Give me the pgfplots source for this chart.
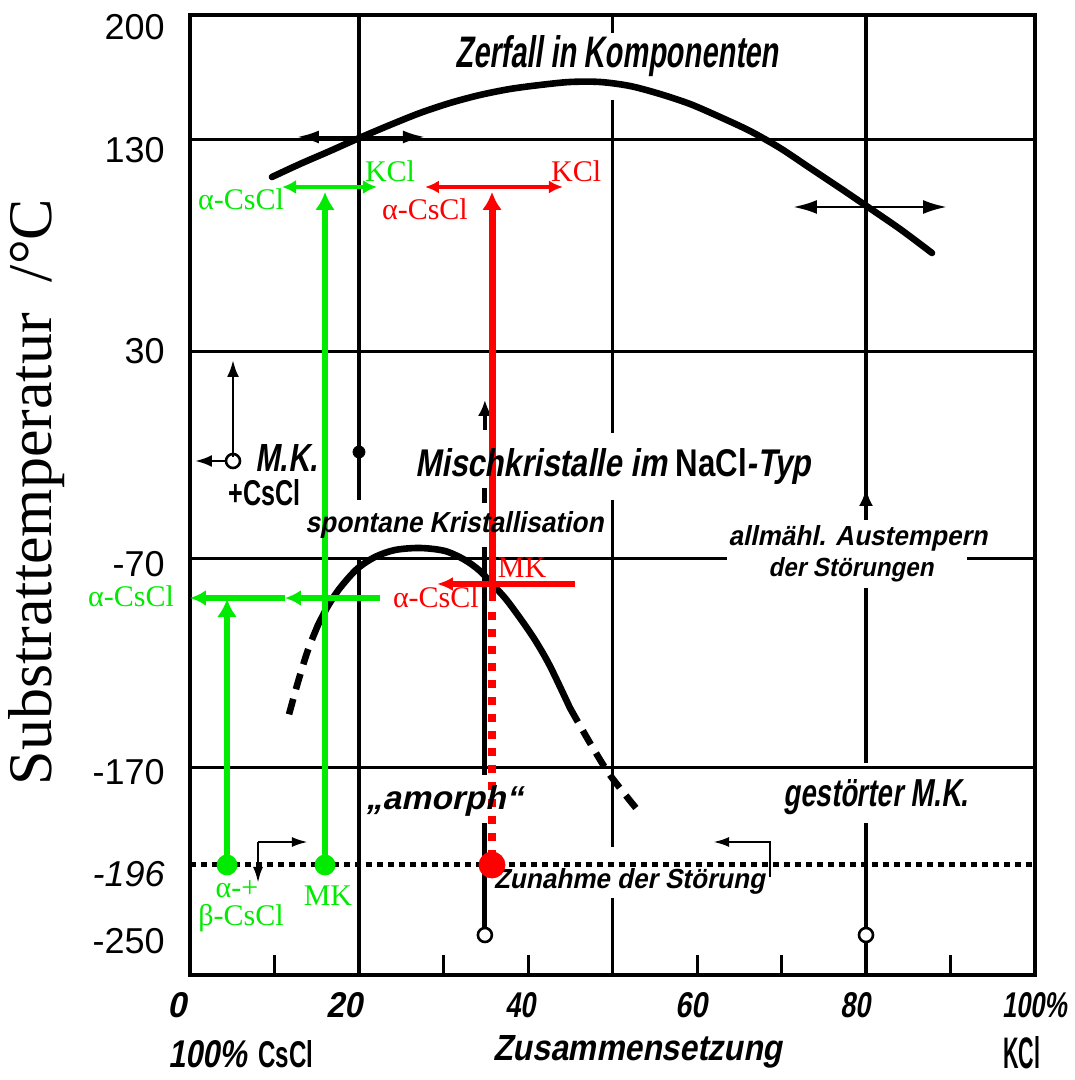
\documentclass[border=0pt]{standalone}
\usepackage{fontspec}
\setmainfont{Liberation Serif}
\newfontfamily\arial{Liberation Sans}
\newfontfamily\din[FakeSlant=0.22]{Liberation Sans}
\newfontfamily\dinup{Liberation Sans}
\usepackage{graphicx}
\usepackage{pgfplots}
\pgfplotsset{compat=1.18}
\usetikzlibrary{arrows.meta}
\definecolor{gr}{RGB}{0,235,0}
\definecolor{rd}{RGB}{255,0,0}
\newcommand\rb[3]{\resizebox{#1}{#2}{\din\bfseries #3}}
\newcommand\rbu[3]{\resizebox{#1}{#2}{\dinup\bfseries #3}}
\begin{document}
\begin{tikzpicture}
\begin{axis}[
  scale only axis, width=422.5pt, height=480pt,
  xmin=0, xmax=100, ymin=105, ymax=1065,
  clip=false,
  axis line style={line width=2.2pt},
  xtick={0,10,...,100}, xticklabels=\empty, xtick pos=bottom, xtick align=inside,
  major tick length=10pt, xtick style={line width=1.5pt, black},
  ytick={1053,930,729,516,308,206,139},
  yticklabels={200,130,30,-70,-170,\textit{-196},-250},
  ytick style={draw=none},
  yticklabel style={font=\arial\fontsize{18}{18}\selectfont, anchor=east, inner sep=0pt, xshift=-12.5pt},
]
% bounding box of the whole picture
\path (axis cs:-22.485,0) rectangle (axis cs:104.73,1080);

% horizontal grid lines
\draw[line width=1.5pt] (axis cs:0,940) -- (axis cs:100,940);
\draw[line width=1.5pt] (axis cs:0,728) -- (axis cs:100,728);
\draw[line width=1.5pt] (axis cs:0,521) -- (axis cs:63.55,521);
\draw[line width=1.5pt] (axis cs:91.95,521) -- (axis cs:100,521);
\draw[line width=1.5pt] (axis cs:0,312) -- (axis cs:100,312);
\draw[line width=2.5pt, dash pattern=on 3pt off 2.5pt] (axis cs:0,215) -- (axis cs:100,215);
% vertical grid lines
\draw[line width=1.8pt] (axis cs:20,1065) -- (axis cs:20,580);
\draw[line width=1.8pt] (axis cs:20,522) -- (axis cs:20,105);
\draw[line width=1.8pt] (axis cs:50,1065) -- (axis cs:50,1047);
\draw[line width=1.8pt] (axis cs:50,980) -- (axis cs:50,647);
\draw[line width=1.8pt] (axis cs:50,580) -- (axis cs:50,233);
\draw[line width=1.8pt] (axis cs:50,182) -- (axis cs:50,105);
\draw[line width=1.8pt] (axis cs:80,1065) -- (axis cs:80,563);
\draw[line width=1.8pt] (axis cs:80,492) -- (axis cs:80,317);
\draw[line width=1.8pt] (axis cs:80,257) -- (axis cs:80,151);
\draw[line width=1.8pt] (axis cs:80,139) -- (axis cs:80,105);
% vertical line at 35 %
\draw[line width=2.5pt] (axis cs:34.9,592) -- (axis cs:34.9,577);
\draw[line width=2.5pt] (axis cs:34.9,533) -- (axis cs:34.9,305);
\draw[line width=2.5pt] (axis cs:34.9,257) -- (axis cs:34.9,152);

% black arrows
\addplot[line width=1.8pt, -{Latex[length=8pt,width=7pt]}] coordinates {(34.9,650) (34.9,680)};
\addplot[line width=1.8pt, -{Latex[length=9pt,width=7pt]}] coordinates {(80,560) (80,592)};
\addplot[line width=1.4pt, {Latex[length=11pt,width=6.5pt]}-{Latex[length=11pt,width=6.5pt]}] coordinates {(12.66,943) (27.8,943)};
\addplot[line width=1.4pt, {Latex[length=12pt,width=7pt]}-{Latex[length=12pt,width=7pt]}] coordinates {(71.36,873) (89.59,873)};
\addplot[line width=1.4pt, -{Latex[length=8.5pt,width=6pt]}] coordinates {(5.09,623) (5.09,720)};
\addplot[line width=1.4pt, -{Latex[length=8.5pt,width=6pt]}] coordinates {(4.3,619) (0.59,619)};
\addplot[line width=1.3pt, -{Latex[length=8pt,width=5pt]}] coordinates {(8.05,238) (8.05,197)};
\addplot[line width=1.3pt, -{Latex[length=8pt,width=5pt]}] coordinates {(8.05,238) (13.96,238)};
\addplot[line width=1.3pt, -{Latex[length=8pt,width=5pt]}] coordinates {(68.64,203) (68.64,238) (61.9,238)};

% upper curve: Zerfall in Komponenten
\addplot[smooth, line width=3.3pt, line cap=round] coordinates {
(9.70,903) (13.02,916) (16.57,929) (19.76,941) (23.67,955) (27.22,967)
(30.77,977) (34.32,985) (37.87,991) (41.42,995) (44.97,998) (48.52,998)
(52.07,994) (55.62,986) (59.17,976) (62.72,963) (66.27,949) (69.82,932)
(73.37,912) (76.92,892) (79.88,875) (84.02,851) (87.81,827)};
% lower curve: spontane Kristallisation
\addplot[smooth, line width=3.3pt, line cap=round] coordinates {
(15.15,455) (16.33,474) (17.75,492) (19.76,511) (21.89,523) (24.26,530)
(27.22,532) (30.18,529) (32.54,520) (34.32,509) (35.74,496) (37.28,482)
(39.05,462) (40.83,440) (42.60,414) (44.97,372)};
\addplot[smooth, line width=3.3pt, dash pattern=on 8pt off 5pt] coordinates {
(44.97,372) (47.34,337) (49.70,305) (53.25,267)};
\addplot[smooth, line width=3.3pt, dash pattern=on 8pt off 5pt] coordinates {
(15.15,455) (13.96,430) (12.78,398) (11.60,362)};

% black markers
\addplot[only marks, mark=*, mark size=3pt, black] coordinates {(20,628)};
\addplot[only marks, mark=o, mark size=3.5pt, black, mark options={line width=1.3pt, fill=white}] coordinates {(5.09,619) (34.9,145) (80,145)};

% green annotations
\addplot[gr, line width=3.3pt, -{Latex[length=9pt,width=10pt]}] coordinates {(4.38,215) (4.38,481)};
\addplot[gr, line width=3.3pt, -{Latex[length=9pt,width=10pt]}] coordinates {(15.98,215) (15.98,888)};
\addplot[gr, line width=2.3pt, {Latex[length=7pt,width=7pt]}-{Latex[length=7pt,width=7pt]}] coordinates {(10.89,893) (22.13,893)};
\addplot[gr, line width=2.8pt, -{Latex[length=8pt,width=8pt]}] coordinates {(22.49,482) (11.24,482)};
\addplot[gr, line width=2.8pt, -{Latex[length=8pt,width=8pt]}] coordinates {(11.24,482) (0,482)};
\addplot[only marks, mark=*, mark size=5pt, gr] coordinates {(4.38,215) (15.98,215)};

% red annotations
\addplot[rd, line width=3.5pt, -{Latex[length=9pt,width=10pt]}] coordinates {(35.74,479) (35.74,888)};
\addplot[rd, line width=4pt, dash pattern=on 4pt off 4.5pt] coordinates {(35.74,468) (35.74,222)};
\addplot[rd, line width=2.3pt, {Latex[length=7pt,width=6.5pt]}-{Latex[length=7pt,width=6.5pt]}] coordinates {(27.81,893) (44.14,893)};
\addplot[rd, line width=2.8pt, -{Latex[length=8pt,width=7pt]}] coordinates {(45.56,496) (29.23,496)};
\addplot[only marks, mark=*, mark size=6.5pt, rd] coordinates {(35.74,215)};

% black labels
\node[anchor=base west, inner sep=0pt] at (axis cs:31.36,1012) {\rb{161.5pt}{16pt}{Zerfall in Komponenten}};
\node[anchor=base west, inner sep=0pt] at (axis cs:26.63,603) {\rb{197.5pt}{14pt}{Mischkristalle im {\dinup NaCl}-Typ}};
\node[anchor=base west, inner sep=0pt] at (axis cs:13.6,547) {\rb{149pt}{10.5pt}{spontane Kristallisation}};
\node[anchor=base west, inner sep=0pt] at (axis cs:7.69,608) {\rb{31pt}{13.5pt}{M.K.}};
\node[anchor=base west, inner sep=0pt] at (axis cs:4.5,574) {\rbu{36pt}{13pt}{+CsCl}};
\node[anchor=base west, inner sep=0pt] at (axis cs:63.67,534) {\rb{129.5pt}{10pt}{allmähl. Austempern}};
\node[anchor=base west, inner sep=0pt] at (axis cs:68.4,503) {\rb{82.5pt}{9.5pt}{der Störungen}};
\node[anchor=base west, inner sep=0pt] at (axis cs:20.7,270) {\rb{78.5pt}{12pt}{„amorph“}};
\node[anchor=base west, inner sep=0pt] at (axis cs:70.2,273) {\rb{92.5pt}{13.5pt}{gestörter M.K.}};
\node[anchor=base west, inner sep=0pt] at (axis cs:35.9,191) {\rb{135.5pt}{10pt}{Zunahme der Störung}};

% x tick labels and axis title
\node[anchor=base, inner sep=0pt] at (axis cs:-1.54,63) {\rb{9.5pt}{12.5pt}{0}};
\node[anchor=base, inner sep=0pt] at (axis cs:18.34,63) {\rb{18pt}{12.5pt}{20}};
\node[anchor=base, inner sep=0pt] at (axis cs:39.17,63) {\rb{15pt}{12.5pt}{40}};
\node[anchor=base, inner sep=0pt] at (axis cs:59.29,63) {\rb{16pt}{12.5pt}{60}};
\node[anchor=base, inner sep=0pt] at (axis cs:78.7,63) {\rb{15pt}{12.5pt}{80}};
\node[anchor=base west, inner sep=0pt] at (axis cs:96.1,63) {\rb{32.5pt}{12.5pt}{100\%}};
\node[anchor=base west, inner sep=0pt] at (axis cs:-2.6,13) {\rb{39.5pt}{13.5pt}{100\%}};
\node[anchor=base west, inner sep=0pt] at (axis cs:8.05,13) {\rbu{27.5pt}{13.5pt}{CsCl}};
\node[anchor=base west, inner sep=0pt] at (axis cs:35.86,20) {\rb{144.5pt}{12.5pt}{Zusammensetzung}};
\node[anchor=base west, inner sep=0pt] at (axis cs:96.2,12) {\rbu{18.5pt}{16pt}{KCl}};

% y axis title
\node[rotate=90, inner sep=0pt, font=\fontsize{31}{31}\selectfont] at (axis cs:-18.1,588) {Substrattemperatur~ /°C};

% green and red labels
\begin{scope}[every node/.style={inner sep=0pt, anchor=base, font=\fontsize{15}{15}\selectfont}]
\node[gr] at (axis cs:23.67,898) {KCl};
\node[gr] at (axis cs:6.04,870) {α-CsCl};
\node[gr] at (axis cs:-6.98,473) {α-CsCl};
\node[gr] at (axis cs:5.56,182) {α-+};
\node[gr] at (axis cs:6.04,154) {β-CsCl};
\node[gr] at (axis cs:16.33,174) {MK};
\node[rd] at (axis cs:45.7,898) {KCl};
\node[rd] at (axis cs:27.8,860) {α-CsCl};
\node[rd] at (axis cs:39.3,502) {MK};
\node[rd] at (axis cs:29.1,472) {α-CsCl};
\end{scope}
\end{axis}
\end{tikzpicture}
\end{document}
